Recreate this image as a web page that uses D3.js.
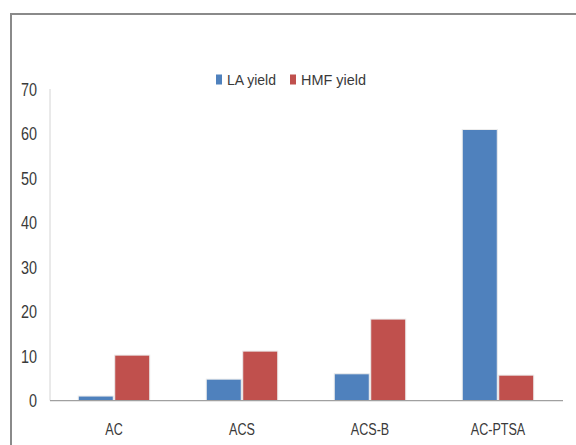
<!DOCTYPE html>
<html><head><meta charset="utf-8">
<script src="https://cdn.jsdelivr.net/npm/d3@7/dist/d3.min.js"></script>
<style>
body{margin:0;background:#fff;}
text{font-family:"Liberation Sans","Arial",sans-serif;fill:#3a3a3a;}
</style></head>
<body><svg id="c" width="576" height="445"></svg>
<script>
const categories = ["AC","ACS","ACS-B","AC-PTSA"];
const seriesNames = ["LA yield","HMF yield"];
const laYield = [1.0, 4.8, 6.0, 60.9];
const hmfYield = [10.2, 11.1, 18.3, 5.7];
const yTicks = [0,10,20,30,40,50,60,70];
const colors = ["#4F81BD","#C0504D"];

const svg = d3.select("#c");
// outer frame
svg.append("rect").attr("x",11).attr("y",14).attr("width",620).attr("height",480)
  .attr("fill","none").attr("stroke","#8a8a8a").attr("stroke-width",2);

const y = d3.scaleLinear().domain([0,70]).range([400.5,89]);
const x = d3.scaleBand().domain(categories).range([50,562]);
const xs = d3.scaleBand().domain(seriesNames).range([0,71.5]).paddingInner(0.04);

// y axis line
svg.append("line").attr("x1",50).attr("x2",50).attr("y1",89).attr("y2",400.5)
  .attr("stroke","#d4d4d4").attr("stroke-width",1);
// y tick labels (narrow)
svg.append("g").selectAll("text").data(yTicks).join("text")
  .attr("transform",d=>`translate(37,${y(d)+6.5}) scale(0.8,1)`)
  .attr("text-anchor","end").attr("font-size",18).text(d=>d);

const groups = svg.append("g").selectAll("g").data(categories).join("g")
  .attr("transform",c=>`translate(${x(c)+x.bandwidth()/2-35.75},0)`);
groups.selectAll("rect").data((c,i)=>[
  {s:seriesNames[0],v:laYield[i],k:0},
  {s:seriesNames[1],v:hmfYield[i],k:1}]).join("rect")
  .attr("x",d=>xs(d.s)).attr("width",xs.bandwidth())
  .attr("y",d=>y(d.v)).attr("height",d=>y(0)-y(d.v))
  .attr("fill",d=>colors[d.k]).attr("stroke","#ececec").attr("stroke-width",1);

// x axis line
svg.append("line").attr("x1",50).attr("x2",563).attr("y1",400.7).attr("y2",400.7)
  .attr("stroke","#a0a0a0").attr("stroke-width",1.3);
// x labels (narrow)
svg.append("g").selectAll("text").data(categories).join("text")
  .attr("transform",c=>`translate(${x(c)+x.bandwidth()/2},434.5) scale(0.74,1)`)
  .attr("text-anchor","middle").attr("font-size",17).text(c=>c);

// legend
const leg = svg.append("g");
const legX = [216,290];
const legW = [49,65];
seriesNames.forEach((s,i)=>{
  leg.append("rect").attr("x",legX[i]).attr("y",74.5).attr("width",6).attr("height",10).attr("fill",colors[i]);
  leg.append("text").attr("x",legX[i]+11).attr("y",84.5).attr("font-size",15)
    .attr("textLength",legW[i]).attr("lengthAdjust","spacingAndGlyphs").text(s);
});
</script></body></html>
